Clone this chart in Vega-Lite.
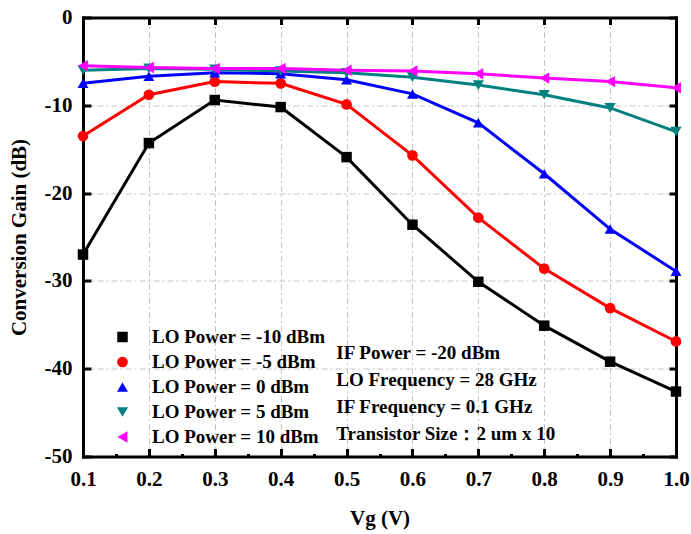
{
  "$schema": "https://vega.github.io/schema/vega-lite/v6.json",
  "width": 593,
  "height": 439,
  "autosize": {"type": "none"},
  "padding": {"left": 83, "top": 17.5, "right": 15, "bottom": 77.5},
  "background": "white",
  "datasets": {
    "gain": [
      {"series": "LO Power = -10 dBm", "vg": 0.1, "gain": -27.0},
      {"series": "LO Power = -10 dBm", "vg": 0.2, "gain": -14.3},
      {"series": "LO Power = -10 dBm", "vg": 0.3, "gain": -9.4},
      {"series": "LO Power = -10 dBm", "vg": 0.4, "gain": -10.2},
      {"series": "LO Power = -10 dBm", "vg": 0.5, "gain": -15.9},
      {"series": "LO Power = -10 dBm", "vg": 0.6, "gain": -23.6},
      {"series": "LO Power = -10 dBm", "vg": 0.7, "gain": -30.1},
      {"series": "LO Power = -10 dBm", "vg": 0.8, "gain": -35.1},
      {"series": "LO Power = -10 dBm", "vg": 0.9, "gain": -39.2},
      {"series": "LO Power = -10 dBm", "vg": 1.0, "gain": -42.6},
      {"series": "LO Power = -5 dBm", "vg": 0.1, "gain": -13.5},
      {"series": "LO Power = -5 dBm", "vg": 0.2, "gain": -8.8},
      {"series": "LO Power = -5 dBm", "vg": 0.3, "gain": -7.3},
      {"series": "LO Power = -5 dBm", "vg": 0.4, "gain": -7.5},
      {"series": "LO Power = -5 dBm", "vg": 0.5, "gain": -9.9},
      {"series": "LO Power = -5 dBm", "vg": 0.6, "gain": -15.7},
      {"series": "LO Power = -5 dBm", "vg": 0.7, "gain": -22.8},
      {"series": "LO Power = -5 dBm", "vg": 0.8, "gain": -28.6},
      {"series": "LO Power = -5 dBm", "vg": 0.9, "gain": -33.1},
      {"series": "LO Power = -5 dBm", "vg": 1.0, "gain": -36.9},
      {"series": "LO Power = 0 dBm", "vg": 0.1, "gain": -7.5},
      {"series": "LO Power = 0 dBm", "vg": 0.2, "gain": -6.7},
      {"series": "LO Power = 0 dBm", "vg": 0.3, "gain": -6.3},
      {"series": "LO Power = 0 dBm", "vg": 0.4, "gain": -6.4},
      {"series": "LO Power = 0 dBm", "vg": 0.5, "gain": -7.1},
      {"series": "LO Power = 0 dBm", "vg": 0.6, "gain": -8.7},
      {"series": "LO Power = 0 dBm", "vg": 0.7, "gain": -12.0},
      {"series": "LO Power = 0 dBm", "vg": 0.8, "gain": -17.8},
      {"series": "LO Power = 0 dBm", "vg": 0.9, "gain": -24.1},
      {"series": "LO Power = 0 dBm", "vg": 1.0, "gain": -28.9},
      {"series": "LO Power = 5 dBm", "vg": 0.1, "gain": -6.0},
      {"series": "LO Power = 5 dBm", "vg": 0.2, "gain": -5.8},
      {"series": "LO Power = 5 dBm", "vg": 0.3, "gain": -5.9},
      {"series": "LO Power = 5 dBm", "vg": 0.4, "gain": -6.1},
      {"series": "LO Power = 5 dBm", "vg": 0.5, "gain": -6.3},
      {"series": "LO Power = 5 dBm", "vg": 0.6, "gain": -6.8},
      {"series": "LO Power = 5 dBm", "vg": 0.7, "gain": -7.7},
      {"series": "LO Power = 5 dBm", "vg": 0.8, "gain": -8.8},
      {"series": "LO Power = 5 dBm", "vg": 0.9, "gain": -10.3},
      {"series": "LO Power = 5 dBm", "vg": 1.0, "gain": -13.0},
      {"series": "LO Power = 10 dBm", "vg": 0.1, "gain": -5.5},
      {"series": "LO Power = 10 dBm", "vg": 0.2, "gain": -5.7},
      {"series": "LO Power = 10 dBm", "vg": 0.3, "gain": -5.8},
      {"series": "LO Power = 10 dBm", "vg": 0.4, "gain": -5.8},
      {"series": "LO Power = 10 dBm", "vg": 0.5, "gain": -6.0},
      {"series": "LO Power = 10 dBm", "vg": 0.6, "gain": -6.1},
      {"series": "LO Power = 10 dBm", "vg": 0.7, "gain": -6.4},
      {"series": "LO Power = 10 dBm", "vg": 0.8, "gain": -6.9},
      {"series": "LO Power = 10 dBm", "vg": 0.9, "gain": -7.3},
      {"series": "LO Power = 10 dBm", "vg": 1.0, "gain": -8.0}
    ]
  },
  "config": {
    "view": {"stroke": null},
    "font": "Liberation Serif",
    "axis": {
      "labelFont": "Liberation Serif",
      "labelFontWeight": "bold",
      "labelFontSize": 21,
      "labelColor": "black",
      "titleFont": "Liberation Serif",
      "titleFontWeight": "bold",
      "titleFontSize": 21,
      "titleColor": "black",
      "domainColor": "black",
      "domainWidth": 3,
      "domainCap": "square",
      "tickColor": "black",
      "tickWidth": 3,
      "gridColor": "#c4c4c4",
      "gridDash": [6, 3, 2, 3],
      "gridWidth": 1
    },
    "legend": {
      "labelFont": "Liberation Serif",
      "labelFontWeight": "bold",
      "labelFontSize": 19,
      "labelColor": "black",
      "labelLimit": 400
    }
  },
  "layer": [
    {
      "data": {"name": "gain"},
      "mark": {"type": "line", "strokeWidth": 3},
      "encoding": {
        "x": {
          "field": "vg", "type": "quantitative",
          "scale": {"domain": [0.1, 1.0], "nice": false, "zero": false},
          "axis": {
            "orient": "bottom",
            "values": [0.1, 0.2, 0.3, 0.4, 0.5, 0.6, 0.7, 0.8, 0.9, 1.0],
            "format": ".1f",
            "ticks": false,
            "labelPadding": 12,
            "grid": true,
            "title": "Vg (V)",
            "titlePadding": 18,
            "labelFlush": false,
            "labelOverlap": false
          }
        },
        "y": {
          "field": "gain", "type": "quantitative",
          "scale": {"domain": [-50, 0], "nice": false, "zero": false},
          "axis": {
            "orient": "left",
            "values": [-50, -40, -30, -20, -10, 0],
            "labelExpr": "datum.value + ''",
            "ticks": false,
            "labelPadding": 11,
            "grid": true,
            "title": "Conversion Gain (dB)",
            "titlePadding": 15,
            "labelFlush": false,
            "labelOverlap": false
          }
        },
        "color": {
          "field": "series", "type": "nominal",
          "scale": {
            "domain": ["LO Power = -10 dBm", "LO Power = -5 dBm", "LO Power = 0 dBm", "LO Power = 5 dBm", "LO Power = 10 dBm"],
            "range": ["#000000", "#ff0000", "#0000ff", "#008080", "#ff00ff"]
          },
          "legend": null
        }
      }
    },
    {
      "data": {"name": "gain"},
      "mark": {"type": "point", "filled": true, "opacity": 1},
      "encoding": {
        "x": {
          "field": "vg", "type": "quantitative",
          "axis": {
            "orient": "top",
            "values": [0.1, 0.2, 0.3, 0.4, 0.5, 0.6, 0.7, 0.8, 0.9, 1.0],
            "labels": false,
            "tickSize": -7,
            "grid": false,
            "title": null
          }
        },
        "y": {
          "field": "gain", "type": "quantitative",
          "axis": {
            "orient": "right",
            "values": [-50, -40, -30, -20, -10, 0],
            "labels": false,
            "tickSize": -7,
            "grid": false,
            "title": null
          }
        },
        "color": {
          "field": "series", "type": "nominal",
          "legend": {
            "orient": "none",
            "legendX": 30,
            "legendY": 310,
            "title": null,
            "padding": 0,
            "symbolSize": 144,
            "labelOffset": 20,
            "rowPadding": 5
          }
        },
        "shape": {
          "field": "series", "type": "nominal",
          "scale": {
            "domain": ["LO Power = -10 dBm", "LO Power = -5 dBm", "LO Power = 0 dBm", "LO Power = 5 dBm", "LO Power = 10 dBm"],
            "range": ["square", "circle", "triangle-up", "triangle-down", "triangle-left"]
          },
          "legend": null
        },
        "size": {
          "field": "series", "type": "nominal",
          "scale": {
            "domain": ["LO Power = -10 dBm", "LO Power = -5 dBm", "LO Power = 0 dBm", "LO Power = 5 dBm", "LO Power = 10 dBm"],
            "range": [110, 130, 190, 190, 190]
          },
          "legend": null
        }
      }
    },
    {
      "data": {"values": [{}]},
      "mark": {
        "type": "text",
        "text": ["IF Power = -20 dBm", "LO Frequency = 28 GHz", "IF Frequency = 0.1 GHz", "Transistor Size：2 um x 10"],
        "align": "left",
        "baseline": "top",
        "font": "Liberation Serif",
        "fontWeight": "bold",
        "fontSize": 19,
        "lineHeight": 27,
        "color": "black"
      },
      "encoding": {
        "x": {
          "datum": 0.4844, "type": "quantitative",
          "axis": {
            "orient": "bottom",
            "values": [0.1, 0.15, 0.2, 0.25, 0.3, 0.35, 0.4, 0.45, 0.5, 0.55, 0.6, 0.65, 0.7, 0.75, 0.8, 0.85, 0.9, 0.95, 1.0],
            "labels": false,
            "domain": false,
            "tickSize": {"condition": {"test": "round(datum.value * 100) % 10 == 5", "value": -3}, "value": -8},
            "grid": false,
            "title": null
          }
        },
        "y": {
          "datum": -37.2, "type": "quantitative",
          "axis": {
            "orient": "left",
            "values": [-50, -40, -30, -20, -10, 0],
            "labels": false,
            "domain": false,
            "tickSize": -8,
            "grid": false,
            "title": null
          }
        }
      }
    }
  ],
  "resolve": {
    "axis": {"x": "independent", "y": "independent"},
    "legend": {"color": "independent", "shape": "independent", "size": "independent"}
  }
}
